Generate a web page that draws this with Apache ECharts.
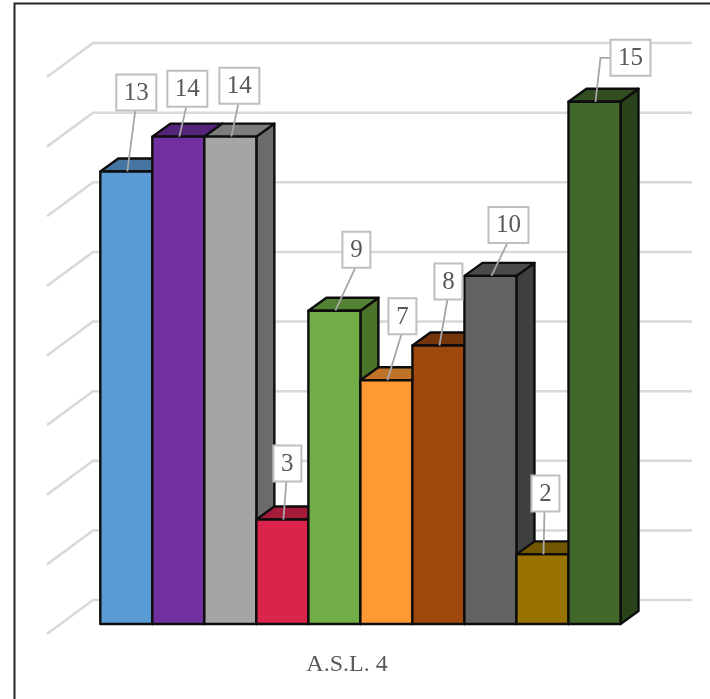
<!DOCTYPE html>
<html>
<head>
<meta charset="utf-8">
<style>html,body{margin:0;padding:0;background:#fff}#chart{width:710px;height:699px}</style>
<script src="https://cdn.jsdelivr.net/npm/echarts@6/dist/echarts.min.js"></script>
</head>
<body>
<div id="chart"></div>
<script>
// Ten bars of the A.S.L. 4 series, each with its own colour.
const categories = ['1', '2', '3', '4', '5', '6', '7', '8', '9', '10'];
const values = [13, 14, 14, 3, 9, 7, 8, 10, 2, 15];
const wallTicks = [0, 2, 4, 6, 8, 10, 12, 14, 16];
const chartTitle = 'A.S.L. 4';

// Face colours per bar: front, top, side.
const frontColors = ['#5b9bd5', '#7030a0', '#a5a5a5', '#db244c', '#70ad47', '#ff9933', '#9e480e', '#636363', '#997300', '#43682b'];
const topColors = ['#44749f', '#54247a', '#7c7c7c', '#a61b3a', '#548235', '#bf7326', '#76360b', '#4a4a4a', '#735600', '#324e20'];
const sideColors = ['#3d678e', '#4a206b', '#6b6b6b', '#921732', '#4b7329', '#a86520', '#68300a', '#404040', '#664d00', '#2a421a'];

// Callout box centre relative to the middle of the bar's top edge.
const labelOffsets = [[10, -79], [9, -48], [9, -51], [5, -56], [22, -61], [16, -64], [10, -64], [18, -51], [3, -61], [36, -44]];

const DEPTH_X = 18, DEPTH_Y = -13;        // bar extrusion
const WALL_DROP = 24;                     // back wall sits above the front plane
const FLOOR_X = 46, FLOOR_Y = 34;         // side wall run
const WALL_LEFT = 93, WALL_RIGHT = 692;   // x extent of the back wall

const chart = echarts.init(document.getElementById('chart'), null, { renderer: 'canvas' });

function renderWall(params, api) {
  const y = api.coord([0, api.value(0)])[1] - WALL_DROP;
  return {
    type: 'polyline',
    silent: true,
    shape: { points: [[WALL_LEFT - FLOOR_X, y + FLOOR_Y], [WALL_LEFT, y], [WALL_RIGHT, y]] },
    style: { fill: null, stroke: '#d9d9d9', lineWidth: 2.5 }
  };
}

function renderBar(params, api) {
  const i = params.dataIndex;
  const [cx, ty] = api.coord([api.value(0), api.value(1)]);
  const by = api.coord([api.value(0), 0])[1];
  const half = api.size([1, 0])[0] / 2;
  const l = cx - half, r = cx + half;
  const edge = { stroke: '#0d0d0d', lineWidth: 2.4, lineJoin: 'round' };
  const face = (points, fill) => ({
    type: 'polygon', shape: { points }, style: Object.assign({ fill }, edge)
  });
  return {
    type: 'group',
    children: [
      face([[r, ty], [r + DEPTH_X, ty + DEPTH_Y], [r + DEPTH_X, by + DEPTH_Y], [r, by]], sideColors[i]),
      face([[l, ty], [l + DEPTH_X, ty + DEPTH_Y], [r + DEPTH_X, ty + DEPTH_Y], [r, ty]], topColors[i]),
      face([[l, ty], [r, ty], [r, by], [l, by]], frontColors[i])
    ]
  };
}

function renderLabel(params, api) {
  const i = params.dataIndex;
  const value = api.value(1);
  const [cx, ty] = api.coord([api.value(0), value]);
  const bx = cx + labelOffsets[i][0], by = ty + labelOffsets[i][1];
  const w = String(value).length > 1 ? 40 : 28, h = 36;
  // The last callout sits beside its bar, so its leader leaves the box sideways.
  const sideways = labelOffsets[i][1] > -46 && labelOffsets[i][0] > 30;
  const leader = sideways
    ? [[bx - w / 2, by], [bx - w / 2 - 10, by], [cx + 1, ty]]
    : [[bx - 1, by + h / 2], [cx + 1, ty]];
  return {
    type: 'group',
    children: [
      { type: 'polyline', shape: { points: leader }, style: { fill: null, stroke: '#a6a6a6', lineWidth: 1.8 } },
      { type: 'rect', shape: { x: bx - w / 2, y: by - h / 2, width: w, height: h },
        style: { fill: '#ffffff', stroke: '#bfbfbf', lineWidth: 2 } },
      { type: 'text', x: bx, y: by + 1,
        style: { text: String(value), fill: '#595959', font: '25px "Liberation Serif"', align: 'center', verticalAlign: 'middle' } }
    ]
  };
}

chart.setOption({
  animation: false,
  backgroundColor: '#ffffff',
  title: {
    text: chartTitle, left: 342, top: 648, textAlign: 'center',
    textStyle: { fontFamily: 'Liberation Serif', fontSize: 24, fontWeight: 'normal', color: '#595959' }
  },
  // The frame is drawn along the top and left edges only.
  graphic: [{
    type: 'polyline', silent: true,
    shape: { points: [[14.5, 699], [14.5, 3.5], [710, 3.5]] },
    style: { fill: null, stroke: '#262626', lineWidth: 2 }
  }],
  grid: { left: 100.3, top: 67, width: 520.2, height: 557 },
  xAxis: {
    type: 'category', data: categories, boundaryGap: true,
    axisLine: { show: false }, axisTick: { show: false }, axisLabel: { show: false }
  },
  yAxis: {
    type: 'value', min: 0, max: 16, interval: 2,
    axisLine: { show: false }, axisTick: { show: false }, axisLabel: { show: false }, splitLine: { show: false }
  },
  series: [
    {
      type: 'custom', renderItem: renderWall, silent: true, z: 1, clip: false,
      encode: { y: 0 }, data: wallTicks.map(v => [v])
    },
    {
      type: 'custom', renderItem: renderBar, z: 2, clip: false,
      encode: { x: 0, y: 1 }, data: values.map((v, i) => [i, v])
    },
    {
      type: 'custom', renderItem: renderLabel, z: 3, clip: false,
      encode: { x: 0, y: 1 }, data: values.map((v, i) => [i, v])
    }
  ]
});
</script>
</body>
</html>
